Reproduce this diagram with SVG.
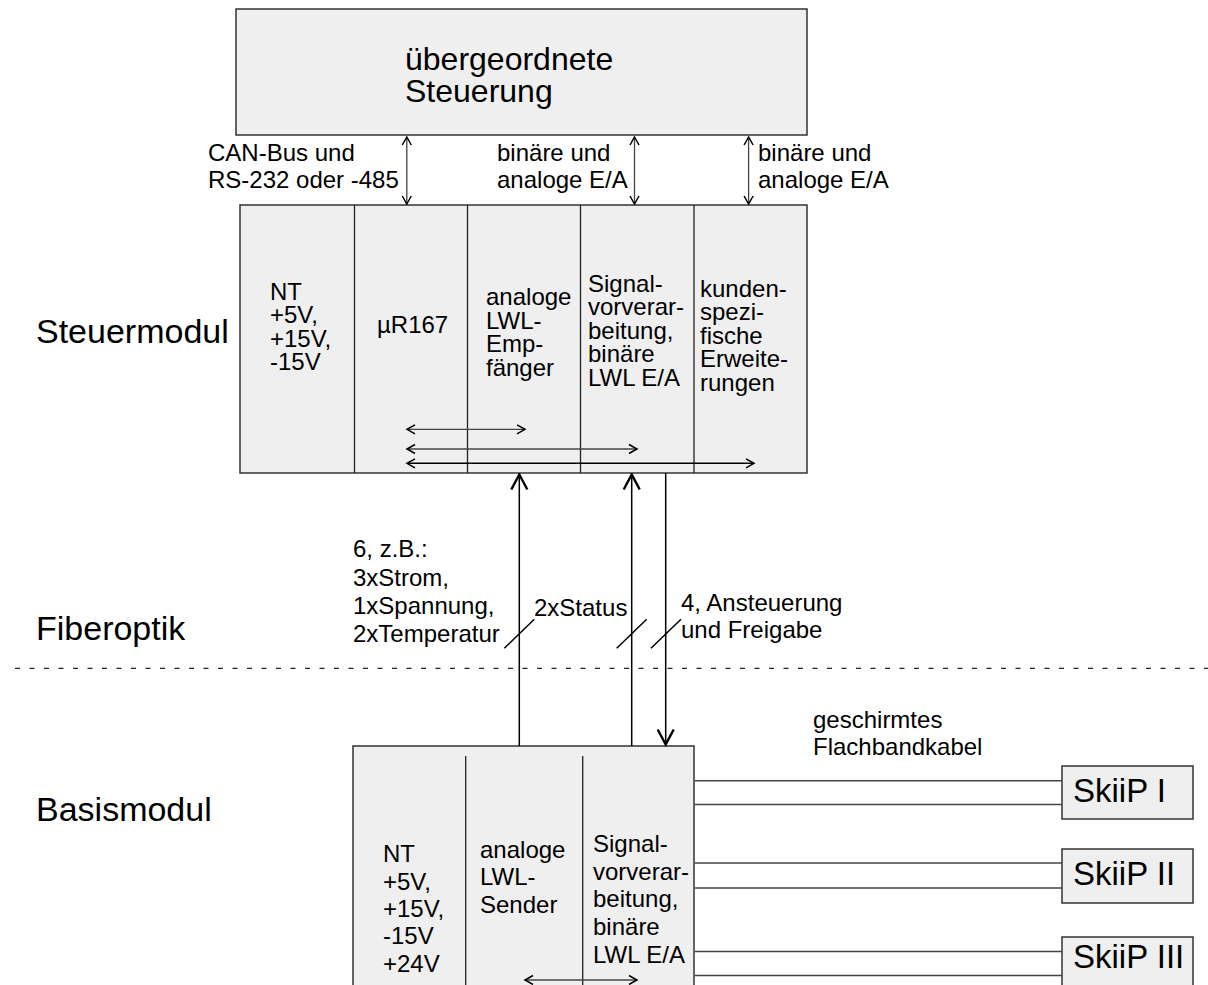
<svg xmlns="http://www.w3.org/2000/svg" width="1208" height="985" viewBox="0 0 1208 985">
<style>
text{font-family:"Liberation Sans",Arial,sans-serif;fill:#000}
.t{font-size:24px}
.big{font-size:34px}
.ttl{font-size:32px}
.sk{font-size:33px}
.box{fill:#efefef;stroke:#333;stroke-width:1.5}
.div{stroke:#222;stroke-width:1.3;fill:none}
.ln{stroke:#000;stroke-width:1.5;fill:none}
.thin{stroke:#444;stroke-width:1.3;fill:none}
.cab{stroke:#444;stroke-width:1.6;fill:none}
.dash{stroke:#222;stroke-width:1.2;stroke-dasharray:5 9.5;fill:none}
</style>
<defs>
<marker id="sm" viewBox="-10 -6 12 12" refX="0" refY="0" markerWidth="12" markerHeight="12" markerUnits="userSpaceOnUse" orient="auto-start-reverse">
<path d="M-8,-4.5 L0,0 L-8,4.5" fill="none" stroke="#000" stroke-width="1.5"/>
</marker>
<marker id="big" viewBox="-18 -10 20 20" refX="0" refY="0" markerWidth="20" markerHeight="20" markerUnits="userSpaceOnUse" orient="auto-start-reverse">
<path d="M-15,-8 L0,0 L-15,8" fill="none" stroke="#000" stroke-width="2.4"/>
</marker>
</defs>
<rect width="1208" height="985" fill="#fff"/>

<g id="top">
<rect class="box" x="236" y="9" width="571" height="126"/>
<text class="ttl" x="405" y="70">übergeordnete</text>
<text class="ttl" x="405" y="102">Steuerung</text>
</g>

<g id="steuermodul">
<rect class="box" x="240" y="205" width="567" height="268"/>
<path class="div" d="M354.5,205V473M467.5,205V473M580.5,205V473M694,205V473"/>
<text class="t" x="270" y="300">NT</text>
<text class="t" x="270" y="323">+5V,</text>
<text class="t" x="270" y="346.5">+15V,</text>
<text class="t" x="270" y="370">-15V</text>
<text class="t" x="377" y="333">µR167</text>
<text class="t" x="486" y="305">analoge</text>
<text class="t" x="486" y="328.5">LWL-</text>
<text class="t" x="486" y="352">Emp-</text>
<text class="t" x="486" y="375.5">fänger</text>
<text class="t" x="588" y="291.7">Signal-</text>
<text class="t" x="588" y="315">vorverar-</text>
<text class="t" x="588" y="338.5">beitung,</text>
<text class="t" x="588" y="362">binäre</text>
<text class="t" x="588" y="385.5">LWL E/A</text>
<text class="t" x="700" y="296.7">kunden-</text>
<text class="t" x="700" y="320">spezi-</text>
<text class="t" x="700" y="343.5">fische</text>
<text class="t" x="700" y="367">Erweite-</text>
<text class="t" x="700" y="390.5">rungen</text>
</g>

<g id="basismodul">
<rect class="box" x="353" y="746" width="341" height="260"/>
<path class="div" d="M465.7,756V990M582.7,756V990"/>
<text class="t" x="383" y="861.7">NT</text>
<text class="t" x="383" y="890">+5V,</text>
<text class="t" x="383" y="916.7">+15V,</text>
<text class="t" x="383" y="944">-15V</text>
<text class="t" x="383" y="971.7">+24V</text>
<text class="t" x="480" y="858">analoge</text>
<text class="t" x="480" y="885">LWL-</text>
<text class="t" x="480" y="913">Sender</text>
<text class="t" x="593" y="851.7">Signal-</text>
<text class="t" x="593" y="880">vorverar-</text>
<text class="t" x="593" y="906.7">beitung,</text>
<text class="t" x="593" y="935">binäre</text>
<text class="t" x="593" y="963">LWL E/A</text>
</g>

<g id="skiip1">
<rect class="box" x="1062" y="766" width="131" height="53"/>
<text class="sk" x="1073" y="801.7">SkiiP I</text>
</g>
<g id="skiip2">
<rect class="box" x="1062" y="849" width="131" height="54"/>
<text class="sk" x="1073" y="885">SkiiP II</text>
</g>
<g id="skiip3">
<rect class="box" x="1062" y="937" width="131" height="70"/>
<text class="sk" x="1073" y="968">SkiiP III</text>
</g>

<g id="labels">
<text class="big" x="36" y="343">Steuermodul</text>
<text class="big" x="36" y="640">Fiberoptik</text>
<text class="big" x="36" y="821">Basismodul</text>
<text class="t" x="208" y="161">CAN-Bus und</text>
<text class="t" x="208" y="188">RS-232 oder -485</text>
<text class="t" x="497" y="161">binäre und</text>
<text class="t" x="497" y="188">analoge E/A</text>
<text class="t" x="758" y="161">binäre und</text>
<text class="t" x="758" y="188">analoge E/A</text>
<text class="t" x="353" y="557.3">6, z.B.:</text>
<text class="t" x="353" y="585.7">3xStrom,</text>
<text class="t" x="353" y="614">1xSpannung,</text>
<text class="t" x="353" y="641.7">2xTemperatur</text>
<text class="t" x="534" y="616">2xStatus</text>
<text class="t" x="681" y="611">4, Ansteuerung</text>
<text class="t" x="681" y="638">und Freigabe</text>
<text class="t" x="813" y="728">geschirmtes</text>
<text class="t" x="813" y="755">Flachbandkabel</text>
</g>

<g id="connectors">
<line class="thin" x1="406.8" y1="137" x2="406.8" y2="204" marker-start="url(#sm)" marker-end="url(#sm)"/>
<line class="thin" x1="634.5" y1="137" x2="634.5" y2="204" marker-start="url(#sm)" marker-end="url(#sm)"/>
<line class="thin" x1="748.6" y1="137" x2="748.6" y2="204" marker-start="url(#sm)" marker-end="url(#sm)"/>
<line class="thin" x1="407" y1="429.3" x2="525" y2="429.3" marker-start="url(#sm)" marker-end="url(#sm)"/>
<line class="thin" x1="407" y1="449" x2="637" y2="449" marker-start="url(#sm)" marker-end="url(#sm)"/>
<line class="ln" x1="407" y1="463.3" x2="754" y2="463.3" marker-start="url(#sm)" marker-end="url(#sm)"/>
<line class="ln" x1="519.3" y1="746" x2="519.3" y2="474.5" marker-end="url(#big)"/>
<line class="ln" x1="631.7" y1="746" x2="631.7" y2="474.5" marker-end="url(#big)"/>
<line class="ln" x1="665.7" y1="473" x2="665.7" y2="744.5" marker-end="url(#big)"/>
<line class="thin" x1="525" y1="980" x2="637" y2="980" marker-start="url(#sm)" marker-end="url(#sm)"/>
<path class="ln" stroke-width="1.2" d="M504.3,648.3L534.3,619.3M616.7,648.3L646.7,619.3M651,648.3L681,619.3"/>
<path class="dash" d="M15,668.3H1208"/>
<path class="cab" d="M694.8,780.7H1062M694.8,804.5H1062M694.8,863H1062M694.8,888H1062M694.8,951.5H1062M694.8,975.5H1062"/>
</g>
</svg>
